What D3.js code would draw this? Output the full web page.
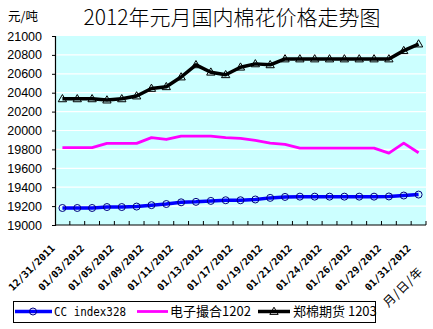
<!DOCTYPE html>
<html><head><meta charset="utf-8">
<script src="https://cdn.jsdelivr.net/npm/d3@7"></script>
<style>body{margin:0;background:#fff}svg{display:block}</style>
</head><body>
<script>
const categories = ["12/31/2011","01/01/2012","01/03/2012","01/04/2012","01/05/2012","01/06/2012","01/09/2012","01/10/2012","01/11/2012","01/12/2012","01/13/2012","01/16/2012","01/17/2012","01/18/2012","01/19/2012","01/20/2012","01/21/2012","01/23/2012","01/24/2012","01/25/2012","01/26/2012","01/27/2012","01/29/2012","01/30/2012","01/31/2012"];
const shownLabels = ["12/31/2011","01/03/2012","01/05/2012","01/09/2012","01/11/2012","01/13/2012","01/17/2012","01/19/2012","01/21/2012","01/24/2012","01/26/2012","01/29/2012","01/31/2012"];
const ccIndex = [19180,19180,19180,19190,19190,19195,19210,19222,19240,19245,19255,19262,19262,19270,19287,19297,19300,19300,19300,19300,19300,19300,19302,19312,19322];
const dianzi = [19818,19818,19818,19864,19864,19864,19924,19905,19940,19940,19940,19924,19917,19895,19867,19853,19814,19814,19814,19814,19814,19814,19761,19867,19765];
const zhengmian = [20335,20335,20335,20322,20335,20365,20445,20463,20566,20695,20617,20590,20670,20705,20695,20757,20757,20757,20757,20757,20757,20757,20757,20845,20915];
const yTicks = [19000,19200,19400,19600,19800,20000,20200,20400,20600,20800,21000];
const seriesNames = ["CC index328","电子撮合1202","郑棉期货 1203"];
const title = "2012年元月国内棉花价格走势图";
const yUnit = "元/吨";
const xTitle = "月/日/年";

const W = 433, H = 329;
const svg = d3.select("body").append("svg").attr("width", W).attr("height", H);
const x = d3.scaleBand().domain(categories).range([55, 426]).padding(0);
const y = d3.scaleLinear().domain([19000, 21000]).range([225, 36]);
const cx = c => x(c) + x.bandwidth() / 2;

// plot background
svg.append("rect").attr("x", 55).attr("y", y(21000)).attr("width", 426 - 55).attr("height", y(19000) - y(21000)).attr("fill", "#CCFFFF");
// gridlines
svg.append("g").selectAll("line").data(yTicks.filter(v => v > 19000 && v < 21000)).join("line")
  .attr("x1", 55).attr("x2", 426).attr("y1", d => y(d)).attr("y2", d => y(d))
  .attr("stroke", "#fff").attr("stroke-width", 1.2);

// y axis
const yAxis = svg.append("g").attr("transform", "translate(55,0)")
  .call(d3.axisLeft(y).tickValues(yTicks).tickSize(3).tickPadding(10).tickFormat(d3.format("d")));
yAxis.select(".domain").attr("stroke", "#000").attr("stroke-width", 1.2);
yAxis.selectAll(".tick line").attr("stroke", "#000");
yAxis.selectAll("text").attr("font-family", "Liberation Sans, Arial, sans-serif").attr("font-size", 12.5).attr("fill", "#000");

// x axis line and ticks
svg.append("line").attr("x1", 55).attr("x2", 426).attr("y1", 225).attr("y2", 225).attr("stroke", "#000").attr("stroke-width", 1.2);
svg.append("g").selectAll("line").data(categories.slice(1).map(c => x(c)).concat([426])).join("line")
  .attr("x1", d => d).attr("x2", d => d).attr("y1", 225).attr("y2", 221).attr("stroke", "#000");

// x labels
svg.append("g").selectAll("text").data(shownLabels).join("text")
  .attr("transform", d => `translate(${cx(d) - 7},249) rotate(-45)`)
  .attr("text-anchor", "end")
  .attr("font-family", "DejaVu Sans Mono, monospace").attr("font-weight", "bold").attr("font-size", 10)
  .text(d => d);
svg.append("text").attr("transform", "translate(424,272) rotate(-45)").attr("text-anchor", "end")
  .attr("font-family", "Noto Sans CJK SC").attr("font-size", 12).attr("letter-spacing", 1).text(xTitle);

// lines
const line = d3.line().x((d, i) => cx(categories[i])).y(d => y(d));
svg.append("path").datum(dianzi).attr("d", line).attr("fill", "none").attr("stroke", "#FF00FF").attr("stroke-width", 2.8).attr("stroke-linejoin", "round");
svg.append("path").datum(ccIndex).attr("d", line).attr("fill", "none").attr("stroke", "#0000FF").attr("stroke-width", 3.5).attr("stroke-linejoin", "round");
svg.append("g").selectAll("circle").data(ccIndex).join("circle")
  .attr("cx", (d, i) => cx(categories[i])).attr("cy", d => y(d)).attr("r", 3.5)
  .attr("fill", "none").attr("stroke", "#000080").attr("stroke-width", 1);
svg.append("path").datum(zhengmian).attr("d", line).attr("fill", "none").attr("stroke", "#000").attr("stroke-width", 3.5).attr("stroke-linejoin", "round");
const tri = d3.symbol().type(d3.symbolTriangle).size(30);
svg.append("g").selectAll("path").data(zhengmian).join("path")
  .attr("transform", (d, i) => `translate(${cx(categories[i])},${y(d) + 0.5})`)
  .attr("d", tri).attr("fill", "none").attr("stroke", "#000").attr("stroke-width", 1);

// title & unit
svg.append("text").attr("x", 232).attr("y", 25).attr("text-anchor", "middle")
  .attr("font-family", "Noto Sans CJK SC").attr("font-weight", 300).attr("font-size", 21).text(title);
svg.append("text").attr("x", 8).attr("y", 21)
  .attr("font-family", "Noto Sans CJK SC").attr("font-size", 12.5).text(yUnit);

// legend
svg.append("rect").attr("x", 13.5).attr("y", 301.5).attr("width", 362).attr("height", 21).attr("fill", "#fff").attr("stroke", "#000");
const ly = 311.5;
svg.append("line").attr("x1", 15).attr("x2", 52).attr("y1", ly).attr("y2", ly).attr("stroke", "#0000FF").attr("stroke-width", 3.5);
svg.append("circle").attr("cx", 33).attr("cy", ly).attr("r", 3.5).attr("fill", "none").attr("stroke", "#000080");
svg.append("text").attr("x", 54).attr("y", ly + 4.5).attr("font-family", "DejaVu Sans Mono, monospace").attr("font-size", 12)
  .attr("textLength", 72).attr("lengthAdjust", "spacingAndGlyphs").text(seriesNames[0]);
svg.append("line").attr("x1", 137).attr("x2", 168).attr("y1", ly).attr("y2", ly).attr("stroke", "#FF00FF").attr("stroke-width", 2.8);
svg.append("text").attr("x", 170).attr("y", ly + 4.5).attr("font-family", "Noto Sans CJK SC").attr("font-size", 13).text(seriesNames[1]);
svg.append("line").attr("x1", 258).attr("x2", 290).attr("y1", ly).attr("y2", ly).attr("stroke", "#000").attr("stroke-width", 3.5);
svg.append("path").attr("transform", `translate(274,${ly + 0.5})`).attr("d", tri).attr("fill", "none").attr("stroke", "#000");
svg.append("text").attr("x", 293).attr("y", ly + 4.5).attr("font-family", "Noto Sans CJK SC").attr("font-size", 13).text(seriesNames[2]);
</script>
</body></html>
